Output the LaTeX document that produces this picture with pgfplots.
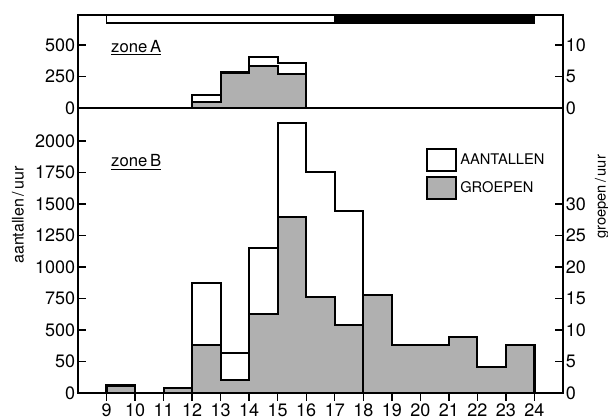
\documentclass[border=0pt]{standalone}
\usepackage{fontspec}
\setmainfont{TeX Gyre Heros}
\usepackage{pgfplots}
\usepackage{pgfplotstable}
\pgfplotsset{compat=1.18}

% zone B: aantallen per uur (begin van het uur)
\pgfplotstableread{
h  n
12 875
13 315
14 1148
15 2145
16 1756
17 1447
18 1447
}\aantalB
% zone B: groepen per uur
\pgfplotstableread{
h  g
9  1.2
10 0
11 0.75
12 7.6
13 2.1
14 12.6
15 27.9
16 15.3
17 10.8
18 15.6
19 7.6
20 7.6
21 8.9
22 4.1
23 7.6
24 7.6
}\groepB
% zone A
\pgfplotstableread{
h  n
12 103
13 285
14 402
15 360
16 360
}\aantalA
\pgfplotstableread{
h  g
12 1.0
13 5.6
14 6.7
15 5.4
16 5.4
}\groepA

\definecolor{raster}{gray}{0.69}
\newcommand\tickfont{\fontsize{13.5}{16}\selectfont}
\newcommand\labfont{\fontsize{11}{13}\selectfont}

\pgfplotsset{
  panel/.style={
    scale only axis, width=363.75pt,
    xmin=8, xmax=25, ymin=0,
    axis line style={line width=1.1pt},
    tick style={line width=1.1pt, black},
    major tick length=6pt,
    tick align=inside,
    tick label style={font=\tickfont},
    yticklabel style={inner xsep=2pt},
    xticklabel style={inner ysep=1.8pt},
    /pgf/number format/assume math mode=true,
    at={(0pt,0pt)}, anchor=south west,
  },
  bottompanel/.style={panel, height=213.75pt},
  toppanel/.style={panel, height=69.75pt, at={(0pt,213.75pt)}},
  trap/.style={const plot, line width=1.6pt, draw=black},
  legbox/.style={legend image code/.code={%
      \draw[line width=1.3pt, ##1] (0pt,-8.25pt) rectangle (21.75pt,8.25pt);}},
}

\begin{document}
\begin{tikzpicture}[font=\tickfont]
\path[use as bounding box] (-58.5pt,-20.25pt) rectangle (397.5pt,294.75pt);

% ---------- zone B ----------
\begin{axis}[bottompanel, ymax=2262, axis on top, clip mode=individual,
  xtick=\empty, ytick pos=left,
  ytick={0,250,...,2000},
  yticklabels={0,50,500,750,1000,1250,1500,1750,2000},
  ylabel={aantallen\,/\,uur},
  ylabel style={at={(-0.124,0.625)}, anchor=center, font=\fontsize{12}{14}\selectfont},
  legend cell align=left,
  legend style={draw=none, fill=none, at={(0.7175,0.86)}, anchor=north west,
    inner sep=0pt, row sep=3.4pt, font=\labfont,
    nodes={inner xsep=2.5pt, inner ysep=0pt}},
]
\addplot[const plot, fill=white, draw=none, forget plot] table[x=h, y=n] {\aantalB} \closedcycle;
\addplot[trap, fill=raster, forget plot] table[x=h, y expr=\thisrow{g}*50] {\groepB} \closedcycle;
\addplot[trap, forget plot] table[x=h, y=n] {\aantalB} \closedcycle;
\addlegendimage{legbox, fill=white}
\addlegendentry{AANTALLEN}
\addlegendimage{legbox, fill=raster}
\addlegendentry{GROEPEN}
\node[anchor=base west, font=\fontsize{12.5}{15}\selectfont] at (axis cs:9,1794) {\underline{zone\,B}};
\end{axis}

\begin{axis}[bottompanel, ymax=45.24, clip=false,
  hide x axis, axis y line*=right,
  ytick={0,5,...,30},
]
\node[rotate=90, font=\labfont] at (rel axis cs:1.08,0.688) {groepen\,/\,uur};
\end{axis}

\begin{axis}[bottompanel, ymax=2262, hide y axis, axis x line*=bottom,
  xtick={9,...,24}, tick align=outside,
]
\end{axis}

% ---------- zone A ----------
\begin{axis}[toppanel, ymax=738, axis on top, clip mode=individual,
  xtick=\empty, ytick pos=left,
  ytick={0,250,500},
]
\addplot[const plot, fill=white, draw=none] table[x=h, y=n] {\aantalA} \closedcycle;
\addplot[trap, fill=raster] table[x=h, y expr=\thisrow{g}*50] {\groepA} \closedcycle;
\addplot[trap] table[x=h, y=n] {\aantalA} \closedcycle;
% dag / nacht balk
\addplot[fill=white, draw=black, line width=1.1pt] coordinates {(9,738) (9,675) (17,675) (17,738)} -- cycle;
\addplot[fill=black, draw=black, line width=1.1pt] coordinates {(17,675) (24,675) (24,738) (17,738)} -- cycle;
\node[anchor=base west, font=\fontsize{12.5}{15}\selectfont] at (axis cs:9,444) {\underline{zone\,A}};
\end{axis}

\begin{axis}[toppanel, ymax=14.76,
  hide x axis, axis y line*=right,
  ytick={0,5,10},
]
\end{axis}

\end{tikzpicture}
\end{document}
